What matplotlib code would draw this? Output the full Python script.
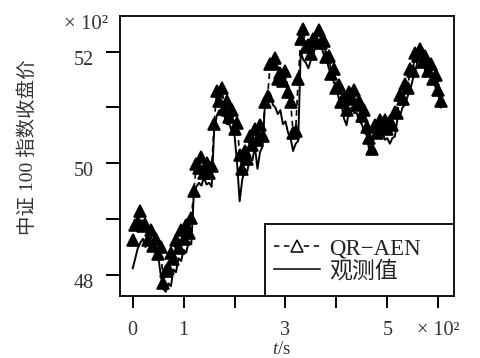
import numpy as np
import matplotlib
matplotlib.use("Agg")
import matplotlib.pyplot as plt
from matplotlib.lines import Line2D
from matplotlib.patches import Rectangle
import matplotlib.transforms as mtransforms

plt.rcParams['font.family'] = ['Liberation Serif', 'Noto Sans CJK SC']
plt.rcParams['mathtext.fontset'] = 'custom'
plt.rcParams['mathtext.it'] = 'Liberation Serif:italic'
plt.rcParams['mathtext.rm'] = 'Liberation Serif'

# time in seconds (sampling every 5 s)
t = np.arange(0, 610, 5)

observed = [
    4812, 4830, 4848, 4858, 4865, 4850, 4866, 4852, 4852, 4838,
    4835, 4800, 4775, 4770, 4785, 4780, 4810, 4805, 4830, 4825,
    4845, 4840, 4860, 4855, 4945, 4958, 4965, 4960, 4975, 4962,
    4965, 4958, 5060, 5085, 5095, 5085, 5085, 5070, 5070, 5055,
    5050, 5000, 4932, 4970, 4990, 4985, 5010, 5005, 5030, 4990,
    5020, 5030, 5110, 5120, 5125, 5105, 5100, 5088, 5095, 5070,
    5075, 5055, 5045, 5022, 5035, 5040, 5200, 5185, 5180, 5170,
    5185, 5195, 5215, 5212, 5210, 5195, 5190, 5170, 5160, 5145,
    5135, 5115, 5105, 5080, 5068, 5095, 5100, 5090, 5090, 5075,
    5070, 5055, 5050, 5020, 5045, 5050, 5050, 5045, 5060, 5042,
    5045, 5035, 5045, 5048, 5080, 5085, 5100, 5105, 5120, 5130,
    5150, 5165, 5185, 5185, 5180, 5165, 5160, 5155, 5150, 5135,
    5125, 5100,
]

qr_aen = [
    4862, 4890, 4895, 4915, 4888, 4892, 4862, 4880, 4852, 4865,
    4838, 4850, 4785, 4808, 4812, 4840, 4828, 4862, 4848, 4880,
    4865, 4890, 4876, 4902, 4950, 4998, 4992, 5012, 4982, 5000,
    4982, 4995, 5070, 5130, 5112, 5135, 5098, 5112, 5082, 5095,
    5062, 5072, 5015, 4990, 5022, 5008, 5048, 5032, 5062, 5042,
    5068, 5048, 5110, 5120, 5178, 5180, 5188, 5150, 5162, 5148,
    5165, 5128, 5110, 5055, 5058, 5150, 5222, 5240, 5208, 5212,
    5195, 5222, 5218, 5238, 5215, 5218, 5190, 5192, 5160, 5168,
    5135, 5140, 5110, 5118, 5095, 5128, 5115, 5132, 5105, 5112,
    5085, 5095, 5065, 5045, 5025, 5068, 5055, 5078, 5065, 5078,
    5062, 5075, 5068, 5092, 5090, 5122, 5115, 5142, 5135, 5168,
    5165, 5198, 5192, 5205, 5182, 5192, 5165, 5178, 5150, 5158,
    5132, 5112,
]

xticks = [0, 100, 200, 300, 400, 500, 600]
xticklabels = ['0', '1', '', '3', '', '5', '× 10²']
yticks = [4800, 4900, 5000, 5100, 5200]
yticklabels = ['48', '', '50', '', '52']

fig = plt.figure(figsize=(4.8, 3.58), dpi=100)
ax = fig.add_axes([0.25, 0.174, 0.6958, 0.782])

ax.plot(t, qr_aen, color='black', lw=1.2, dashes=(3.5, 2.5),
        marker='^', ms=8.0, mfc='black', mec='black', mew=1.2)
ax.plot(t, observed, color='black', lw=1.4)

ax.set_xlim(-25, 631)
ax.set_ylim(4763, 5264)
ax.set_xticks(xticks)
ax.set_xticklabels(xticklabels)
ax.set_yticks(yticks)
ax.set_yticklabels(yticklabels)

for s in ax.spines.values():
    s.set_linewidth(1.3)
ax.tick_params(axis='x', direction='out', length=8.5, width=1.4, pad=10, labelsize=14.5, colors='black')
ax.tick_params(axis='y', direction='out', length=10, width=1.4, pad=9, labelsize=14.5, colors='black')
for lab in ax.get_xticklabels():
    lab.set_color('#333333')
offset = mtransforms.ScaledTranslation(0, -0.06, fig.dpi_scale_trans)
for lab in ax.get_yticklabels():
    lab.set_transform(lab.get_transform() + offset)
    lab.set_color('#333333')

# legend box
ax.add_patch(Rectangle((0.4356, 0.0), 0.5644, 0.256, transform=ax.transAxes,
                       fill=True, facecolor='white', edgecolor='black', lw=1.3, zorder=5))
handles = [
    Line2D([], [], color='black', lw=1.1, dashes=(3.5, 3.0), marker='^', ms=9,
           mfc='white', mec='black', mew=1.1),
    Line2D([], [], color='black', lw=1.1),
]
leg = ax.legend(handles, ['QR−AEN', '观测值'], loc='upper left',
                bbox_to_anchor=(0.461, 0.205), frameon=False, borderpad=0,
                borderaxespad=0, handlelength=2.0, handletextpad=0.4,
                labelspacing=0.05, fontsize=16.5, numpoints=1)
leg.set_zorder(6)
for txt in leg.get_texts():
    txt.set_color('#222222')

fig.text(0.226, 0.919, '× 10²', ha='right', va='baseline', fontsize=15, color='#333333')
fig.text(0.058, 0.588, '中证 100 指数收盘价', rotation=90, ha='center', va='center',
         fontsize=14, color='#333333')
fig.text(0.5875, 0.0, '$t$/s', ha='center', va='bottom', fontsize=13.5, color='#333333')

fig.savefig('out.png', dpi=100)
